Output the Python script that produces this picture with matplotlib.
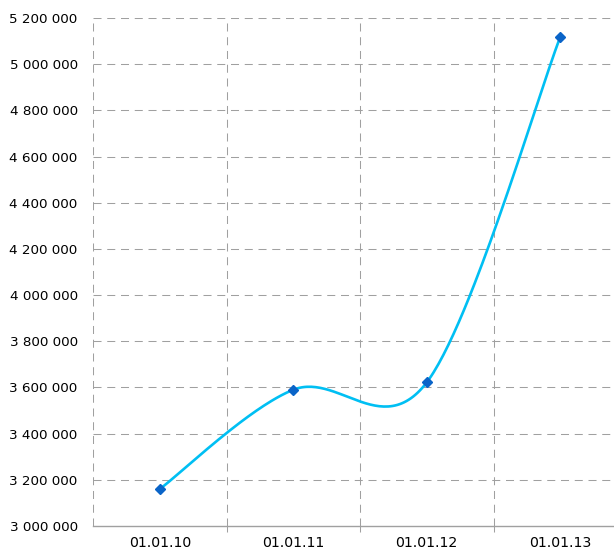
import numpy as np
import matplotlib
matplotlib.use("Agg")
import matplotlib.pyplot as plt
from matplotlib.ticker import FuncFormatter, FixedLocator

categories = ["01.01.10", "01.01.11", "01.01.12", "01.01.13"]
values = [3160000, 3590000, 3622000, 5118000]
y_ticks = list(range(3000000, 5200001, 200000))

W, H = 614, 551
fig = plt.figure(figsize=(W / 100, H / 100), dpi=100)
left, right, top, bottom = 93, 627, 18, 526
ax = fig.add_axes([left / W, 1 - bottom / H, (right - left) / W, (bottom - top) / H])

x = np.arange(1, len(values) + 1, dtype=float)
y = np.array(values, dtype=float)

# Catmull-Rom style smoothing (Excel-like)
pts = np.column_stack([x, y])
ext = np.vstack([pts[0], pts, pts[-1]])
curve = []
for i in range(len(pts) - 1):
    p0, p1, p2, p3 = ext[i], ext[i + 1], ext[i + 2], ext[i + 3]
    c1 = p1 + (p2 - p0) / 6
    c2 = p2 - (p3 - p1) / 6
    t = np.linspace(0, 1, 60)[:, None]
    seg = (1 - t) ** 3 * p1 + 3 * (1 - t) ** 2 * t * c1 + 3 * (1 - t) * t ** 2 * c2 + t ** 3 * p2
    curve.append(seg)
curve = np.vstack(curve)

ax.plot(curve[:, 0], curve[:, 1], color="#00BFF3", lw=1.9, zorder=3, solid_capstyle="round")
ax.plot(x, y, linestyle="none", marker="D", ms=5.5, color="#0A64C8", zorder=4)

ax.set_xlim(0.5, len(values) + 0.5)
ax.set_ylim(3000000, 5200000)

ax.yaxis.set_major_locator(FixedLocator(y_ticks))
ax.yaxis.set_major_formatter(FuncFormatter(lambda v, p: f"{int(v):,}".replace(",", " ")))
ax.set_xticks(x)
ax.set_xticklabels(categories)
ax.set_xticks(np.arange(1.5, len(values) + 0.5, 1.0), minor=True)

grid_kw = dict(color="#A0A0A0", lw=0.75, linestyle=(0, (7.7, 5.5)))
for v in y_ticks[1:]:
    ax.axhline(v, **grid_kw, zorder=1)
for b in [0.5] + list(np.arange(1.5, len(values) + 0.5, 1.0)):
    ax.axvline(b, **grid_kw, zorder=1)

for s in ["top", "right", "left"]:
    ax.spines[s].set_visible(False)
ax.spines["bottom"].set_color("#A0A0A0")
ax.spines["bottom"].set_linewidth(1.0)

ax.tick_params(axis="y", length=0, pad=11, labelsize=9.7, labelcolor="#000000")
ax.tick_params(axis="x", which="major", length=0, pad=7.5, labelsize=10.2, labelcolor="#000000")
ax.tick_params(axis="x", which="minor", length=4, color="#A0A0A0", width=0.75)

fig.savefig("out.png", dpi=100)
